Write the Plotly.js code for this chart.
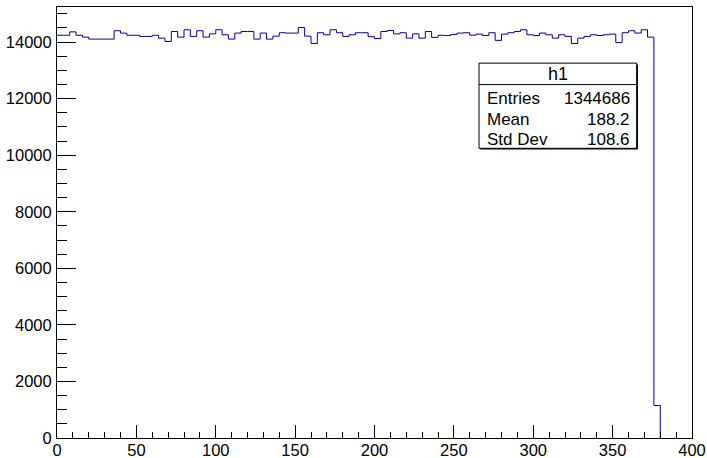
<!DOCTYPE html>
<html>
<head>
<meta charset="utf-8">
<script src="https://cdn.plot.ly/plotly-3.0.1.min.js"></script>
<style>html,body{margin:0;padding:0;background:#fff;}#chart{width:707px;height:458px;}</style>
</head>
<body>
<div id="chart"></div>
<script>
// Histogram h1: 100 bins from 0 to 400 (bin width 4)
const binLow = 0;
const binWidth = 4;
const nBins = 100;
const counts = [
  14240, 14240, 14360, 14240, 14175, 14105, 14105, 14105, 14105, 14400,
  14317, 14240, 14240, 14200, 14200, 14240, 14140, 14022, 14375, 14175,
  14435, 14200, 14400, 14175, 14290, 14435, 14258, 14105, 14317, 14375,
  14375, 14105, 14317, 14105, 14210, 14330, 14317, 14317, 14514, 14210,
  13950, 14330, 14258, 14435, 14330, 14200, 14258, 14330, 14330, 14190,
  14125, 14375, 14410, 14290, 14330, 14140, 14290, 14140, 14375, 14165,
  14240, 14230, 14270, 14317, 14330, 14245, 14280, 14230, 14330, 14060,
  14280, 14330, 14375, 14435, 14258, 14230, 14317, 14258, 14140, 14258,
  14200, 13950, 14140, 14200, 14258, 14230, 14258, 14280, 13980, 14330,
  14400, 14317, 14435, 14175, 1150, 0, 0, 0, 0, 0
];
const statsTitle = "h1";
const statsLabels = ["Entries", "Mean", "Std Dev"];
const statsValues = ["1344686", "188.2", "108.6"];
const yMax = 15240;

// Build step outline through last non-empty bin
let last = counts.length - 1;
while (last > 0 && counts[last] === 0) last--;
const xs = [], ys = [];
for (let i = 0; i <= last; i++) { xs.push(binLow + i * binWidth); ys.push(counts[i]); }
xs.push(binLow + (last + 1) * binWidth); ys.push(0);

const trace = {
  x: xs, y: ys, type: 'scatter', mode: 'lines',
  line: {shape: 'hv', color: '#000099', width: 1},
  hoverinfo: 'skip'
};

const fam = '"Liberation Sans", Arial, sans-serif';
const font = {family: fam, size: 16.5, color: '#000'};
const boxFont = {family: fam, size: 17, color: '#000'};

// stats box in paper coords
const bx0 = 0.6646, bx1 = 0.9129, by0 = 0.6722, by1 = 0.8698, bsep = 0.8200;
const shapes = [
  {type: 'rect', xref: 'paper', yref: 'paper', x0: bx0 + 0.002, x1: bx1 + 0.002, y0: by0 - 0.003, y1: by1 - 0.003,
   line: {width: 0}, fillcolor: '#000'},
  {type: 'rect', xref: 'paper', yref: 'paper', x0: bx0, x1: bx1, y0: by0, y1: by1,
   line: {color: '#000', width: 1}, fillcolor: '#fff'},
  {type: 'line', xref: 'paper', yref: 'paper', x0: bx0, x1: bx1, y0: bsep, y1: bsep,
   line: {color: '#000', width: 1}}
];
const annotations = [
  {xref: 'paper', yref: 'paper', x: (bx0 + bx1) / 2, y: (bsep + by1) / 2, text: statsTitle,
   showarrow: false, xanchor: 'center', yanchor: 'middle', font: {...boxFont, size: 18}}
];
const rowY = [0.7885, 0.738, 0.6915];
statsLabels.forEach((lab, i) => {
  annotations.push({xref: 'paper', yref: 'paper', x: 0.6745, y: rowY[i], text: lab,
    showarrow: false, xanchor: 'left', yanchor: 'middle', font: boxFont});
  annotations.push({xref: 'paper', yref: 'paper', x: 0.9050, y: rowY[i], text: statsValues[i],
    showarrow: false, xanchor: 'right', yanchor: 'middle', font: boxFont});
});

const layout = {
  width: 707, height: 458,
  margin: {l: 57, r: 15, t: 7, b: 20, pad: 0},
  paper_bgcolor: '#fff', plot_bgcolor: '#fff',
  showlegend: false,
  font: font,
  xaxis: {
    range: [binLow, binLow + nBins * binWidth], dtick: 50, tick0: 0,
    ticks: 'inside', ticklen: 13, tickwidth: 1, tickcolor: '#000',
    minor: {dtick: 10, ticks: 'inside', ticklen: 6.5, tickcolor: '#000', tickwidth: 1},
    showline: true, linecolor: '#000', linewidth: 1, mirror: true,
    showgrid: false, zeroline: false, tickfont: font, ticklabelstandoff: -3
  },
  yaxis: {
    range: [0, yMax], dtick: 2000, tick0: 0, tickformat: 'd',
    ticks: 'inside', ticklen: 19, tickwidth: 1, tickcolor: '#000',
    minor: {dtick: 500, ticks: 'inside', ticklen: 9.5, tickcolor: '#000', tickwidth: 1},
    showline: true, linecolor: '#000', linewidth: 1, mirror: true,
    showgrid: false, zeroline: false, tickfont: font, ticklabelstandoff: 1
  },
  shapes: shapes,
  annotations: annotations
};

Plotly.newPlot('chart', [trace], layout, {displayModeBar: false, staticPlot: true});
</script>
</body>
</html>
